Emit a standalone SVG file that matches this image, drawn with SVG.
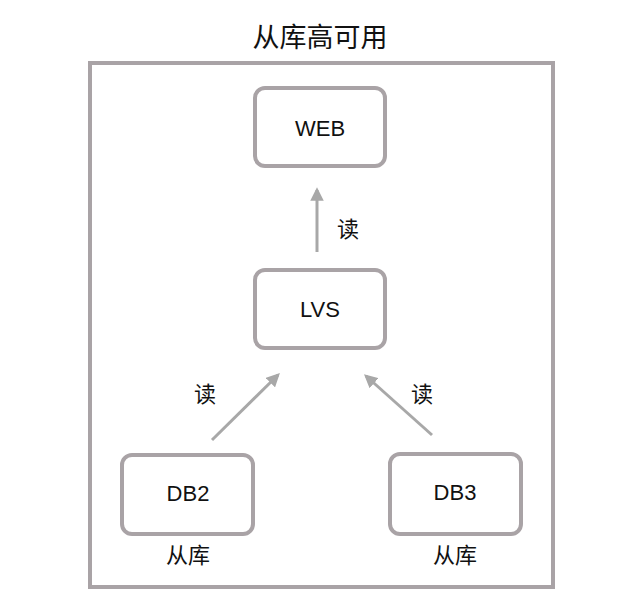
<svg xmlns="http://www.w3.org/2000/svg" width="640" height="601" viewBox="0 0 640 601">
<style>
.box{fill:#fff;stroke:#a9a3a6;stroke-width:4}
.t{font-family:"Liberation Sans","Noto Sans CJK SC",sans-serif;fill:#111;text-anchor:middle}
.c{stroke:#a8a8a8;stroke-width:3;fill:none;marker-end:url(#ah)}
</style>
<defs><marker id="ah" viewBox="0 0 10 10" refX="8" refY="5" markerWidth="4.5" markerHeight="4.5" orient="auto"><path d="M0,0L10,5L0,10z" fill="#a8a8a8"/></marker></defs>
<rect width="640" height="601" fill="#fff"/>
<text class="t" x="320" y="47" font-size="27">从库高可用</text>
<rect x="90" y="63" width="463" height="524" fill="none" stroke="#a9a3a6" stroke-width="4"/>
<g id="web"><rect class="box" x="255" y="88" width="130" height="78" rx="10"/><text class="t" x="320" y="136" font-size="22">WEB</text></g>
<g id="lvs"><rect class="box" x="255" y="270" width="130" height="78" rx="10"/><text class="t" x="320" y="317" font-size="22">LVS</text></g>
<g id="db2"><rect class="box" x="122" y="455" width="131" height="79" rx="10"/><text class="t" x="188" y="501" font-size="22">DB2</text><text class="t" x="188" y="563" font-size="22">从库</text></g>
<g id="db3"><rect class="box" x="390" y="454" width="131" height="80" rx="10"/><text class="t" x="455" y="500" font-size="22">DB3</text><text class="t" x="455" y="563" font-size="22">从库</text></g>
<g id="connectors">
<line class="c" x1="317" y1="252" x2="317" y2="190"/>
<line class="c" x1="212" y1="440" x2="278" y2="375"/>
<line class="c" x1="432" y1="435" x2="366" y2="376"/>
</g>
<text class="t" x="348" y="237" font-size="22">读</text>
<text class="t" x="205" y="402" font-size="22">读</text>
<text class="t" x="422" y="402" font-size="22">读</text>
</svg>
